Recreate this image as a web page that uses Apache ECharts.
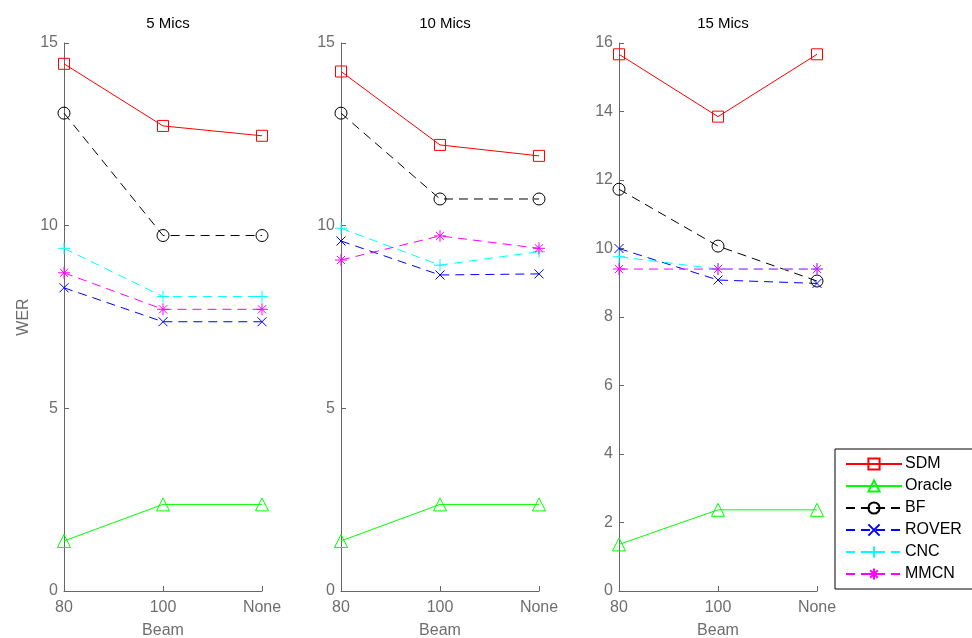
<!DOCTYPE html>
<html>
<head>
<meta charset="utf-8">
<script src="https://cdn.jsdelivr.net/npm/echarts@6/dist/echarts.min.js"></script>
<style>
  html, body { margin: 0; padding: 0; background: #fff; overflow: hidden; }
  #chart { width: 972px; height: 638px; }
</style>
</head>
<body>
<div id="chart"></div>
<script>
// Beam settings on the x axis, shared by all three panels
const beams = ['80', '100', 'None'];
const panelTitles = ['5 Mics', '10 Mics', '15 Mics'];
const yMax = [15, 15, 16];
const yStep = [5, 5, 2];

// WER per system, one array per panel: [80, 100, None]
const sdm    = [[14.43, 12.73, 12.46], [14.22, 12.21, 11.91], [15.67, 13.85, 15.67]];
const oracle = [[1.37, 2.37, 2.37],    [1.37, 2.37, 2.37],    [1.36, 2.37, 2.37]];
const bf     = [[13.08, 9.73, 9.73],   [13.08, 10.73, 10.73], [11.73, 10.07, 9.05]];
const rover  = [[8.30, 7.37, 7.37],    [9.58, 8.65, 8.68],    [10.00, 9.08, 8.98]];
const cnc    = [[9.38, 8.06, 8.06],    [9.93, 8.92, 9.29],    [9.76, 9.40, 9.40]];
const mmcn   = [[8.71, 7.71, 7.71],    [9.06, 9.72, 9.38],    [9.40, 9.40, 9.40]];

const systems = [
  { name: 'SDM',    data: sdm,    color: '#ff0000', dashed: false, symbol: 'rect',     size: 11 },
  { name: 'Oracle', data: oracle, color: '#00ff00', dashed: false, symbol: 'triangle', size: 13 },
  { name: 'BF',     data: bf,     color: '#000000', dashed: true,  symbol: 'circle',   size: 12 },
  { name: 'ROVER',  data: rover,  color: '#0000ff', dashed: true,  symbol: 'path://M0 0L10 10M10 0L0 10', size: 9 },
  { name: 'CNC',    data: cnc,    color: '#00ffff', dashed: true,  symbol: 'path://M5 0L5 10M0 5L10 5', size: 12 },
  { name: 'MMCN',   data: mmcn,   color: '#ff00ff', dashed: true,  symbol: 'path://M5 0L5 10M0 5L10 5M1.6 1.6L8.4 8.4M8.4 1.6L1.6 8.4', size: 12 }
];

const FONT = 'Liberation Sans, Arial, Helvetica, sans-serif';
const AXIS_COLOR = '#666666';
const LABEL_COLOR = '#6e6e6e';
const panelLeft = [64, 341, 619];
const panelWidth = 198;

const grids = [], xAxes = [], yAxes = [], titles = [], series = [];
for (let p = 0; p < 3; p++) {
  grids.push({
    left: panelLeft[p], top: 43, width: panelWidth, height: 548,
    containLabel: false, outerBoundsMode: 'none'
  });
  titles.push({
    text: panelTitles[p], left: panelLeft[p] + panelWidth / 2, top: 11, textAlign: 'center',
    textStyle: { fontFamily: FONT, fontSize: 15, fontWeight: 'normal', color: '#000' }
  });
  xAxes.push({
    type: 'category', gridIndex: p, data: beams, boundaryGap: false,
    name: 'Beam', nameLocation: 'middle', nameGap: 32,
    nameTextStyle: { fontFamily: FONT, fontSize: 16, color: LABEL_COLOR },
    axisLine: { lineStyle: { color: AXIS_COLOR, width: 1 } },
    axisTick: { inside: true, length: 5, lineStyle: { color: AXIS_COLOR } },
    axisLabel: { fontFamily: FONT, fontSize: 16, color: LABEL_COLOR, margin: 9 },
    splitLine: { show: false }
  });
  yAxes.push({
    type: 'value', gridIndex: p, min: 0, max: yMax[p], interval: yStep[p],
    name: p === 0 ? 'WER' : '', nameLocation: 'middle', nameGap: 32, nameRotate: 90,
    nameTextStyle: { fontFamily: FONT, fontSize: 16, color: LABEL_COLOR },
    axisLine: { show: true, lineStyle: { color: AXIS_COLOR, width: 1 } },
    axisTick: { show: true, inside: true, length: 5, lineStyle: { color: AXIS_COLOR } },
    axisLabel: { fontFamily: FONT, fontSize: 16, color: LABEL_COLOR, margin: 6 },
    splitLine: { show: false }
  });
  systems.forEach(s => {
    series.push({
      name: s.name, type: 'line', xAxisIndex: p, yAxisIndex: p,
      data: s.data[p], symbol: s.symbol, symbolSize: s.size, showAllSymbol: true,
      animation: false,
      lineStyle: { color: s.color, width: 1, type: s.dashed ? [9, 6] : 'solid' },
      itemStyle: { color: 'rgba(255,255,255,0)', borderColor: s.color, borderWidth: 1 },
      emphasis: { disabled: true }
    });
  });
}

const chart = echarts.init(document.getElementById('chart'), null, { renderer: 'canvas' });
chart.setOption({
  backgroundColor: '#ffffff',
  animation: false,
  title: titles,
  grid: grids,
  xAxis: xAxes,
  yAxis: yAxes,
  legend: {
    data: systems.map(s => s.name),
    orient: 'vertical', left: 835, top: 449,
    itemWidth: 56, itemHeight: 14, itemGap: 6,
    padding: [7, 30, 7, 10],
    borderColor: '#000', borderWidth: 1, backgroundColor: '#fff',
    textStyle: { fontFamily: FONT, fontSize: 16, color: '#000', padding: [0, 0, 0, -2] },
    selectedMode: false
  },
  series: series
});
</script>
</body>
</html>
